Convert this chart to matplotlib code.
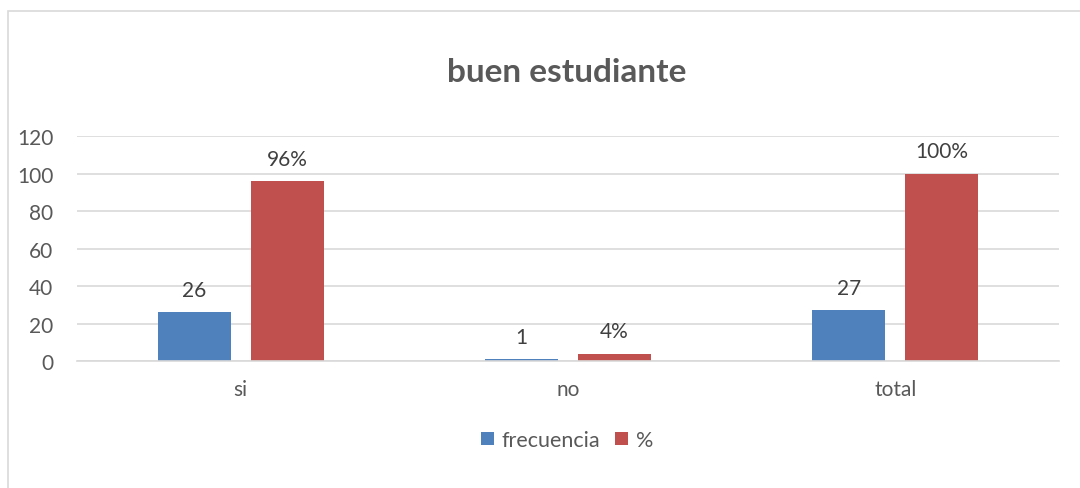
import numpy as np
import matplotlib.pyplot as plt
from matplotlib.patches import Rectangle

plt.rcParams['font.family'] = ['Lato', 'DejaVu Sans']

# data
categories = ["si", "no", "total"]
frecuencia = [26, 1, 27]
porcentaje = [96, 4, 100]
pct_labels = ["96%", "4%", "100%"]

blue = "#4F81BD"
red = "#C0504D"
grey_txt = "#595959"

fig = plt.figure(figsize=(10.8, 4.89), dpi=100)
ax = fig.add_axes([0.0713, 0.2597, 0.9093, 0.4601])

# outer chart border (runs off the right/bottom edge like the source)
fig.patches.append(Rectangle((8/1080, -0.05), 1.1, 1 - 12/489 + 0.05,
                             transform=fig.transFigure, fill=False,
                             edgecolor="#D9D9D9", lw=1.2))

x = np.arange(len(categories))
w = 0.223
off = 0.142
b1 = ax.bar(x - off, frecuencia, w, color=blue, label="frecuencia")
b2 = ax.bar(x + off, porcentaje, w, color=red, label="%")

for rect, v in zip(b1, frecuencia):
    ax.annotate(str(v), (rect.get_x() + rect.get_width()/2, rect.get_height()),
                xytext=(0, 9), textcoords="offset points", ha="center",
                va="bottom", fontsize=15, color="#404040")
for rect, lab in zip(b2, pct_labels):
    ax.annotate(lab, (rect.get_x() + rect.get_width()/2, rect.get_height()),
                xytext=(0, 9), textcoords="offset points", ha="center",
                va="bottom", fontsize=15, color="#404040")

ax.set_xlim(-0.5, 2.5)
ax.set_ylim(0, 120)
ax.set_yticks(range(0, 121, 20))
ax.set_xticks(x)
ax.set_xticklabels(categories)
ax.tick_params(axis="both", length=0, labelsize=15, colors=grey_txt)
ax.tick_params(axis="x", pad=13)
ax.tick_params(axis="y", pad=17)
ax.grid(axis="y", color="#D9D9D9", lw=1.2)
ax.set_axisbelow(True)
for s in ["top", "right", "left"]:
    ax.spines[s].set_visible(False)
ax.spines["bottom"].set_color("#D9D9D9")
ax.spines["bottom"].set_linewidth(1.2)

fig.text(0.525, 1 - 72/489, "buen estudiante", ha="center", va="center",
         fontsize=24, fontweight="bold", color=grey_txt)

fig.legend(loc="center", bbox_to_anchor=(0.525, 1 - 441/489), ncol=2,
           frameon=False, fontsize=15.5, handlelength=0.6, handleheight=0.6,
           handletextpad=0.35, columnspacing=0.7, labelcolor=grey_txt)

fig.savefig("out.png", dpi=100)
